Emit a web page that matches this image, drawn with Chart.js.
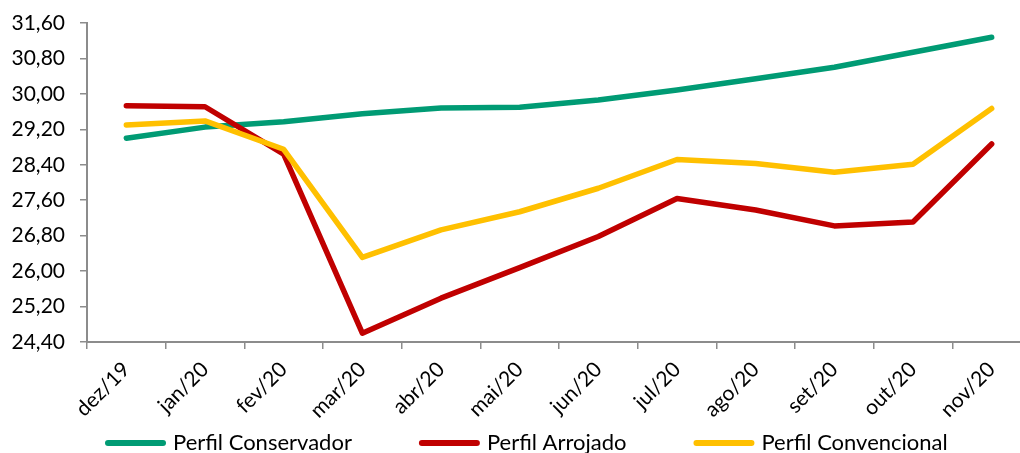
<!DOCTYPE html>
<html>
<head>
<meta charset="utf-8">
<script src="https://cdn.jsdelivr.net/npm/chart.js@4"></script>
<style>
  html, body { margin: 0; padding: 0; background: #fff; overflow: hidden; }
  #wrap { width: 1040px; height: 453px; }
</style>
</head>
<body>
<div id="wrap"><canvas id="chart" width="1040" height="453"></canvas></div>
<script>
const months = ["dez/19", "jan/20", "fev/20", "mar/20", "abr/20", "mai/20", "jun/20", "jul/20", "ago/20", "set/20", "out/20", "nov/20"];
const conservador = [29.00, 29.25, 29.37, 29.55, 29.68, 29.70, 29.86, 30.09, 30.34, 30.60, 30.94, 31.28];
const arrojado = [29.73, 29.71, 28.64, 24.60, 25.39, 26.08, 26.78, 27.64, 27.38, 27.02, 27.11, 28.87];
const convencional = [29.30, 29.39, 28.75, 26.31, 26.93, 27.34, 27.87, 28.52, 28.43, 28.23, 28.41, 29.67];
const yTicks = [24.4, 25.2, 26.0, 26.8, 27.6, 28.4, 29.2, 30.0, 30.8, 31.6];

const FONT = "Lato";
const axisGray = "#8c8c8c";

// legend drawn under the x labels, lines + text
const bottomLegend = {
  id: "bottomLegend",
  afterDraw(chart) {
    const ctx = chart.ctx;
    const items = chart.data.datasets;
    ctx.save();
    ctx.font = "22px " + FONT;
    ctx.textBaseline = "middle";
    ctx.lineCap = "round";
    let x = 108;
    const y = 443;
    items.forEach((ds) => {
      ctx.strokeStyle = ds.borderColor;
      ctx.lineWidth = 6;
      ctx.beginPath();
      ctx.moveTo(x, y);
      ctx.lineTo(x + 55, y);
      ctx.stroke();
      ctx.fillStyle = "#000";
      ctx.fillText(ds.label, x + 65, y);
      x += 65 + ctx.measureText(ds.label).width + 70;
    });
    ctx.restore();
  },
};

const lineStyle = { borderWidth: 5.5, pointRadius: 0, tension: 0, borderCapStyle: "round", borderJoinStyle: "round", fill: false };

new Chart(document.getElementById("chart"), {
  type: "line",
  data: {
    labels: months,
    datasets: [
      { label: "Perfil Conservador", data: conservador, borderColor: "#009B74", order: 3, ...lineStyle },
      { label: "Perfil Arrojado", data: arrojado, borderColor: "#C00000", order: 2, ...lineStyle },
      { label: "Perfil Convencional", data: convencional, borderColor: "#FFC000", order: 1, ...lineStyle },
    ],
  },
  options: {
    responsive: false,
    animation: false,
    layout: { padding: { top: 23, right: 9, bottom: 0, left: 0 } },
    plugins: { legend: { display: false }, tooltip: { enabled: false } },
    scales: {
      x: {
        offset: true,
        grid: { offset: true, drawOnChartArea: false, tickLength: 7, color: axisGray, lineWidth: 1.5 },
        border: { color: axisGray, width: 2 },
        ticks: { minRotation: 45, maxRotation: 45, autoSkip: false, padding: 8, color: "#000", font: { family: FONT, size: 21 } },
        afterFit(scale) { scale.height = 111; },
      },
      y: {
        min: 24.4,
        max: 31.6,
        afterBuildTicks(scale) { scale.ticks = yTicks.map((v) => ({ value: v })); },
        grid: { drawOnChartArea: false, tickLength: 7, color: axisGray, lineWidth: 1.5 },
        border: { color: axisGray, width: 2 },
        ticks: {
          padding: 15,
          color: "#000",
          font: { family: FONT, size: 21 },
          callback: (v) => Number(v).toFixed(2).replace(".", ","),
        },
        afterFit(scale) {
          scale.width = 87;
          scale.paddingTop = 0;
          scale.paddingBottom = 0;
        },
      },
    },
  },
  plugins: [bottomLegend],
});
</script>
</body>
</html>
